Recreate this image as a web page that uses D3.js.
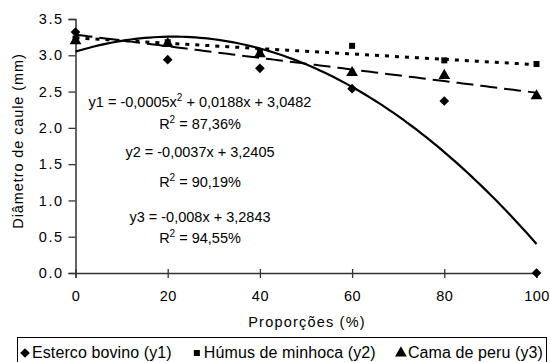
<!DOCTYPE html>
<html>
<head>
<meta charset="utf-8">
<script src="https://cdn.jsdelivr.net/npm/d3@7"></script>
<style>
body { margin: 0; background: #fff; }
text { font-family: "Liberation Sans", Arial, sans-serif; fill: #000; }
</style>
</head>
<body>
<svg id="chart" width="550" height="362"></svg>
<script>
// data
var proporcoes = [0, 20, 40, 60, 80, 100];
var esterco = [3.32, 2.94, 2.82, 2.54, 2.37, 0.0];
var humus   = [3.23, 3.18, 3.05, 3.13, 2.93, 2.88];
var cama    = [3.20, 3.16, 3.02, 2.76, 2.72, 2.44];
var xTicks = [0, 20, 40, 60, 80, 100];
var yTicks = [0, 0.5, 1, 1.5, 2, 2.5, 3, 3.5];
var seriesNames = ["Esterco bovino (y1)", "Húmus de minhoca (y2)", "Cama de peru (y3)"];

// trend coefficients (as drawn)
var coefY1 = [3.05, 0.0195, -0.00046];
var coefY2 = [3.2405, -0.0037];
var coefY3 = [3.2843, -0.008];

var labels = [
    ["y1 = -0,0005x", "2", " + 0,0188x + 3,0482", 107],
    ["R", "2", " = 87,36%", 129],
    ["y2 = -0,0037x + 3,2405", "", "", 157],
    ["R", "2", " = 90,19%", 187],
    ["y3 = -0,008x + 3,2843", "", "", 222],
    ["R", "2", " = 94,55%", 243]
];

var svg = d3.select("#chart");

var x = d3.scaleLinear().domain([0, 100]).range([75.5, 536.5]);
var y = d3.scaleLinear().domain([0, 3.5]).range([273, 19]);

// axes
var xAxis = svg.append("g").attr("transform", "translate(0," + y(0) + ")")
    .call(d3.axisBottom(x).tickValues(xTicks).tickSize(5).tickPadding(13));
var yAxis = svg.append("g").attr("transform", "translate(" + x(0) + ",0)")
    .call(d3.axisLeft(y).tickValues(yTicks).tickSize(7).tickPadding(5)
        .tickFormat(d3.format(".1f")));

[xAxis, yAxis].forEach(function(a) {
    a.select(".domain").attr("stroke", "#333").attr("stroke-width", 1.5);
    a.selectAll(".tick line").attr("stroke", "#333").attr("stroke-width", 1.3);
    a.selectAll("text").style("font-size", "14.5px")
        .style("font-family", "'Liberation Sans', Arial, sans-serif").attr("fill", "#000");
});
yAxis.selectAll("text").style("letter-spacing", "1.5px");
xAxis.selectAll("text").style("letter-spacing", "0.5px");
xAxis.selectAll(".tick line").attr("y1", -4);

svg.append("text").attr("x", 307).attr("y", 327).attr("text-anchor", "middle")
    .style("font-size", "14.5px").style("letter-spacing", "1.2px").text("Proporções (%)");
svg.append("text").attr("transform", "translate(23,141) rotate(-90)")
    .attr("text-anchor", "middle").style("font-size", "14.5px").style("letter-spacing", "0.9px")
    .text("Diâmetro de caule (mm)");

// trend lines
var xs = d3.range(0, 100.5, 1);
var line = d3.line().x(function(d) { return x(d[0]); }).y(function(d) { return y(d[1]); });

function poly(c, v) {
    var s = 0;
    for (var i = 0; i < c.length; i++) s += c[i] * Math.pow(v, i);
    return s;
}

svg.append("path").attr("d", line(xs.map(function(v) { return [v, poly(coefY1, v)]; })))
    .attr("fill", "none").attr("stroke", "#000").attr("stroke-width", 2.2);
svg.append("path").attr("d", line(xs.map(function(v) { return [v, poly(coefY2, v)]; })))
    .attr("fill", "none").attr("stroke", "#000").attr("stroke-width", 3)
    .attr("stroke-dasharray", "4,6");
svg.append("path").attr("d", line(xs.map(function(v) { return [v, poly(coefY3, v)]; })))
    .attr("fill", "none").attr("stroke", "#000").attr("stroke-width", 2)
    .attr("stroke-dasharray", "17,7");

// markers
var diamond = d3.symbol().type(d3.symbolDiamond2).size(60);
var square = d3.symbol().type(d3.symbolSquare).size(36);
var triangle = d3.symbol().type(d3.symbolTriangle).size(60);

function markers(vals, sym) {
    svg.append("g").selectAll("path").data(vals).join("path")
        .attr("transform", function(d, i) { return "translate(" + x(proporcoes[i]) + "," + y(d) + ")"; })
        .attr("d", sym).attr("fill", "#000");
}
markers(esterco, diamond);
markers(humus, square);
markers(cama, triangle);

// equation labels
labels.forEach(function(l) {
    var t = svg.append("text").attr("x", 200).attr("y", l[3])
        .attr("text-anchor", "middle").style("font-size", "14.5px");
    t.append("tspan").text(l[0]);
    if (l[1]) {
        t.append("tspan").attr("dy", -6).style("font-size", "10px").text(l[1]);
        t.append("tspan").attr("dy", 6).text(l[2]);
    }
});

// legend
svg.append("rect").attr("x", 17.5).attr("y", 337.5).attr("width", 529).attr("height", 30)
    .attr("fill", "#fff").attr("stroke", "#000").attr("stroke-width", 1);
var syms = [diamond, square, triangle];
var texts = seriesNames.map(function(n) {
    return svg.append("text").attr("y", 358).style("font-size", "16px")
        .style("letter-spacing", "0.1px").text(n);
});
var widths = texts.map(function(t) { return t.node().getComputedTextLength(); });
var left = 32, right = 543;
var gap = (right - left - d3.sum(widths)) / 2;
var cx = left;
texts.forEach(function(t, i) {
    svg.append("path").attr("transform", "translate(" + (cx - 7) + ",353)")
        .attr("d", syms[i]).attr("fill", "#000");
    t.attr("x", cx);
    cx += widths[i] + gap;
});
</script>
</body>
</html>
